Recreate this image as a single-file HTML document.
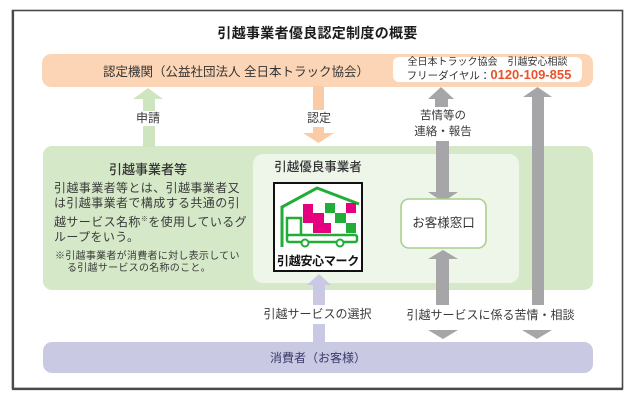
<!DOCTYPE html>
<html><head><meta charset="utf-8">
<style>
html,body{margin:0;padding:0;background:#fff;}
#c{position:relative;width:635px;height:402px;overflow:hidden;font-family:"Liberation Sans","Noto Sans CJK JP",sans-serif;color:#3a3a3a;}
svg{position:absolute;left:0;top:0;}
.t{position:absolute;white-space:nowrap;}
.cen{text-align:center;}
</style></head><body><div id="c">
<svg width="635" height="402" viewBox="0 0 635 402">
  <!-- outer frame -->
  <rect x="12.5" y="10.5" width="610" height="378" fill="#fff" stroke="#4a4a4a" stroke-width="1.6"/>
  <line x1="13" y1="10" x2="13" y2="389" stroke="#4a4a4a" stroke-width="2.2"/>
  <line x1="12" y1="389" x2="623" y2="389" stroke="#4a4a4a" stroke-width="2.2"/>

  <!-- orange bar -->
  <rect x="42" y="54" width="551" height="33" rx="9" fill="#fbd5b6"/>
  <rect x="393" y="57" width="189" height="25" rx="6" fill="#fff"/>

  <!-- green box -->
  <rect x="43" y="146" width="550" height="144" rx="9" fill="#d5e8c8"/>
  <rect x="253" y="154" width="266" height="129" rx="10" fill="#eef6ea"/>

  <!-- green arrow (申請) -->
  <polygon points="133,99 148,88 163,99" fill="#cfe5c0"/>
  <rect x="143" y="98" width="12" height="13" fill="#cfe5c0"/>
  <rect x="143" y="126" width="12" height="21" fill="#cfe5c0"/>

  <!-- orange arrow (認定) -->
  <rect x="313" y="86" width="11" height="24" fill="#f9cba6"/>
  <rect x="313" y="127" width="11" height="7" fill="#f9cba6"/>
  <polygon points="303,133 334,133 318.5,143" fill="#f9cba6"/>

  <!-- gray middle arrow, upper -->
  <polygon points="428,99 441,87 454,99" fill="#a6a6a8"/>
  <rect x="435" y="98" width="13" height="9" fill="#a6a6a8"/>
  <rect x="436" y="141" width="13" height="52" fill="#a6a6a8"/>
  <polygon points="428,192 458,192 443,202" fill="#a6a6a8"/>

  <!-- gray middle arrow, lower -->
  <polygon points="428,259 443,250 458,259" fill="#a6a6a8"/>
  <rect x="436" y="258" width="13" height="47" fill="#a6a6a8"/>
  <polygon points="428,330 458,330 443,339" fill="#a6a6a8"/>

  <!-- gray right long arrow -->
  <polygon points="523,97 537.5,87 552,97" fill="#a6a6a8"/>
  <rect x="532" y="96" width="12" height="209" fill="#a6a6a8"/>
  <polygon points="522,330 552,330 537,339" fill="#a6a6a8"/>

  <!-- お客様窓口 box -->
  <rect x="401" y="199" width="85" height="49" rx="8" fill="#fff" stroke="#a9d18e" stroke-width="1.6"/>

  <!-- lavender arrow -->
  <polygon points="307,285 319,274 331,285" fill="#c9c9e3"/>
  <rect x="313" y="284" width="12" height="21" fill="#c9c9e3"/>
  <rect x="313" y="324" width="12" height="19" fill="#c9c9e3"/>

  <!-- consumer bar -->
  <rect x="43" y="342" width="550" height="31" rx="9" fill="#c9c9e3"/>

  <!-- logo -->
  <rect x="274" y="183" width="88" height="88" fill="#fff" stroke="#111" stroke-width="2"/>
  <polyline points="282,247 282,207 317,188 359,204" fill="none" stroke="#22ac38" stroke-width="3" stroke-linejoin="miter"/>
  <path d="M287,236 V218 H301 V236" fill="none" stroke="#22ac38" stroke-width="2.5"/>
  <rect x="287" y="235" width="70" height="7" rx="2" fill="none" stroke="#22ac38" stroke-width="2.5"/>
  <circle cx="305" cy="243" r="3.5" fill="#fff" stroke="#22ac38" stroke-width="2"/>
  <circle cx="340" cy="243" r="3.5" fill="#fff" stroke="#22ac38" stroke-width="2"/>
  <!-- checker -->
  <rect x="303" y="204" width="10" height="9" fill="#e4007f"/>
  <rect x="325" y="203" width="10" height="10" fill="#22ac38"/>
  <rect x="346" y="203" width="10" height="10" fill="#e4007f"/>
  <rect x="303" y="213" width="21" height="10" fill="#e4007f"/>
  <rect x="335" y="213" width="11" height="10" fill="#22ac38"/>
  <rect x="313" y="223" width="18" height="10" fill="#e4007f"/>
  <rect x="346" y="223" width="10" height="10" fill="#22ac38"/>
</svg>

<!-- title -->
<div class="t cen" style="left:0;width:635px;top:25px;font-size:14px;line-height:16px;font-weight:bold;color:#1c1c1c;letter-spacing:0.3px;">引越事業者優良認定制度の概要</div>

<!-- orange bar text -->
<div class="t" style="left:103px;top:64px;font-size:12.5px;line-height:16px;color:#333;">認定機関（公益社団法人 全日本トラック協会）</div>
<div class="t cen" style="left:393px;width:189px;top:57px;font-size:10px;line-height:12px;color:#333;">全日本トラック協会　引越安心相談</div>
<div class="t cen" style="left:393px;width:192px;top:68px;font-size:10.5px;line-height:14px;color:#333;">フリーダイヤル：<span style="font-size:13px;font-weight:bold;color:#e8532b;">0120-109-855</span></div>

<!-- arrow labels -->
<div class="t cen" style="left:128px;width:40px;top:110px;font-size:12px;line-height:16px;">申請</div>
<div class="t cen" style="left:299px;width:40px;top:110px;font-size:12px;line-height:16px;">認定</div>
<div class="t cen" style="left:403px;width:80px;top:108px;font-size:11.5px;line-height:16px;">苦情等の<br>連絡・報告</div>

<!-- left green block -->
<div class="t cen" style="left:98px;width:100px;top:162px;font-size:13px;line-height:16px;font-weight:500;color:#333;">引越事業者等</div>
<div class="t" style="left:54px;top:181px;font-size:12px;line-height:15.3px;letter-spacing:0.4px;color:#3a3a3a;">引越事業者等とは、引越事業者又<br>は引越事業者で構成する共通の引<br>越サービス名称<span style="font-size:7px;vertical-align:5px;">※</span>を使用しているグ<br>ループをいう。</div>
<div class="t" style="left:55px;top:251px;font-size:10px;line-height:11.5px;letter-spacing:0.28px;color:#3a3a3a;">※引越事業者が消費者に対し表示してい<br><span style="padding-left:12px;">る引越サービスの名称のこと。</span></div>

<!-- inner block -->
<div class="t cen" style="left:263px;width:110px;top:159px;font-size:12.5px;line-height:16px;font-weight:500;color:#333;">引越優良事業者</div>
<div class="t cen" style="left:274px;width:88px;top:254px;font-size:12px;line-height:14px;font-weight:bold;color:#111;letter-spacing:-0.3px;">引越安心マーク</div>
<div class="t cen" style="left:401px;width:85px;top:215px;font-size:12.5px;line-height:16px;color:#333;">お客様窓口</div>

<!-- lower labels -->
<div class="t cen" style="left:257px;width:121px;top:306px;font-size:12px;line-height:16px;">引越サービスの選択</div>
<div class="t cen" style="left:400px;width:181px;top:307px;font-size:12px;line-height:16px;">引越サービスに係る苦情・相談</div>

<!-- consumer -->
<div class="t cen" style="left:258px;width:120px;top:350px;font-size:12px;line-height:16px;color:#3a3a6a;">消費者（お客様）</div>
</div></body></html>
